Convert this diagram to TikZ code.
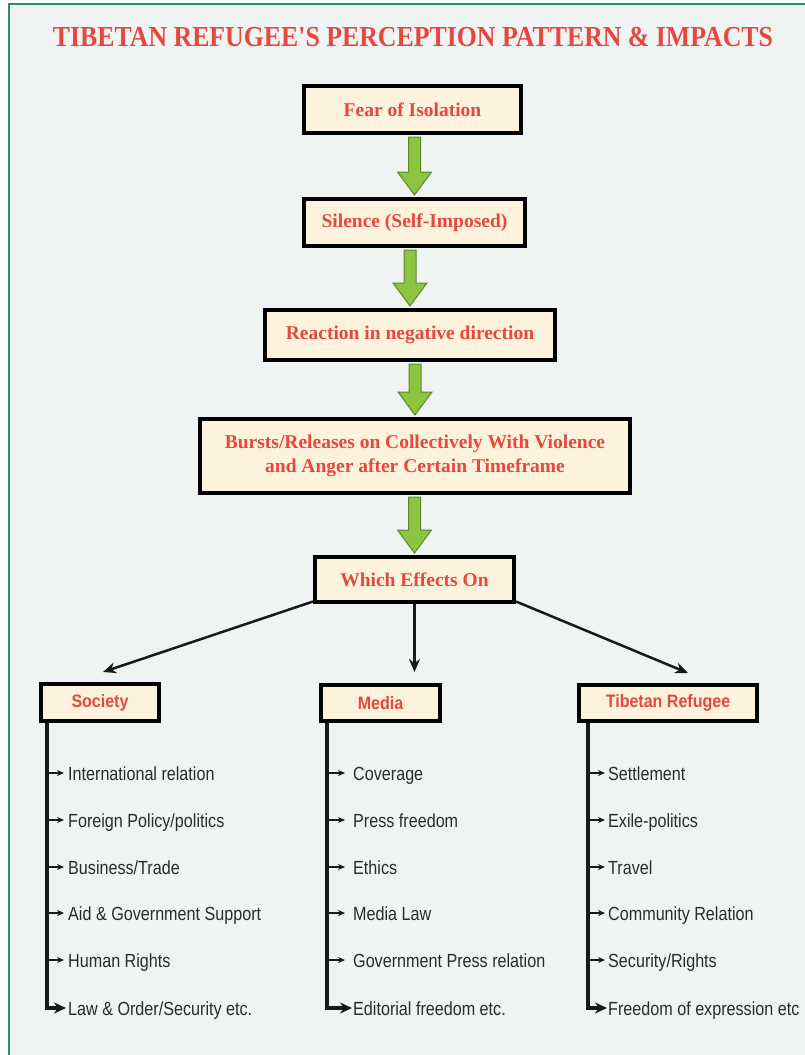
\documentclass[tikz,border=0pt]{standalone}
\usepackage{fontspec}
\setmainfont{Liberation Serif}
\newfontfamily\itemfont[FakeStretch=0.85]{Liberation Sans}
\newfontfamily\headfont[FakeStretch=0.89]{Liberation Sans}
\newfontfamily\titlefont[FakeStretch=0.89]{Liberation Serif}
\usetikzlibrary{arrows.meta,calc}
\definecolor{bg}{HTML}{EFF4F3}
\definecolor{framegreen}{HTML}{2E8B6A}
\definecolor{cream}{HTML}{FDF3DC}
\definecolor{redtxt}{HTML}{E5483E}
\definecolor{gfill}{HTML}{8DC541}
\definecolor{gdraw}{HTML}{5B8A2C}
\definecolor{itemtxt}{HTML}{2B2B2B}
\newcommand\greenarrow[2]{%
  \path let \p1=(#1.south), \p2=(#2.north) in
    [garrow] (\x2-6pt,\y1-2pt) -- (\x2-6pt,\y2+25pt) -- (\x2-17pt,\y2+25pt) -- (\x2,\y2+2pt)
    -- (\x2+17pt,\y2+25pt) -- (\x2+6pt,\y2+25pt) -- (\x2+6pt,\y1-2pt) -- cycle;}
\begin{document}
\begin{tikzpicture}[x=1pt,y=-1pt,
  mainbox/.style={draw=black, line width=4pt, fill=cream, text=redtxt, align=center, inner sep=0pt,
    font=\bfseries\fontsize{19.5}{24}\selectfont},
  headbox/.style={draw=black, line width=4pt, fill=cream, text=redtxt, inner sep=0pt,
    font=\headfont\bfseries\fontsize{18}{20}\selectfont},
  itemtext/.style={anchor=west, inner sep=0pt, text=itemtxt, text height=14pt, text depth=0pt,
    font=\itemfont\fontsize{19}{22}\selectfont},
  garrow/.style={fill=gfill, draw=gdraw, line width=1pt, line join=miter},
  conn/.style={draw=black!90, line width=2.5pt, -{Stealth[length=13pt,width=11pt]}},
  vline/.style={draw=black!90, line width=4pt, -{Stealth[length=12pt,width=11pt]}},
  sarrow/.style={draw=black!90, line width=1.2pt, -{Stealth[length=7pt,width=6pt]}}
]
\useasboundingbox (0,0) rectangle (804,1055);
\fill[white] (0,0) rectangle (804,1055);
\fill[bg] (9,4) rectangle (810,1060);
\draw[framegreen, line width=2.5pt] (9,1060) -- (9,4) -- (810,4);

\node[font=\titlefont\bfseries\fontsize{29}{32}\selectfont, text=redtxt, inner sep=0pt] (title) at (413,37)
  {TIBETAN REFUGEE'S PERCEPTION PATTERN \& IMPACTS};

\node[mainbox, minimum width=217, minimum height=47] (fear) at (412.5,109.5) {Fear of Isolation};
\node[mainbox, minimum width=221, minimum height=47] (sil) at (414.5,222.5) {Silence (Self-Imposed)};
\node[mainbox, minimum width=290, minimum height=50] (react) at (410,335) {Reaction in negative direction};
\node[mainbox, minimum width=430, minimum height=74] (burst) at (415,456) {Bursts/Releases on Collectively With Violence\\and Anger after Certain Timeframe};
\node[mainbox, minimum width=199, minimum height=45] (which) at (414.5,579.5) {Which Effects On};

\greenarrow{fear}{sil}
\greenarrow{sil}{react}
\greenarrow{react}{burst}
\greenarrow{burst}{which}

\node[headbox, minimum width=118, minimum height=37] (soc) at (100,702.5) {Society};
\node[headbox, minimum width=119, minimum height=36] (med) at (380.5,703) {Media};
\node[headbox, minimum width=178, minimum height=36] (trp) at (668,703) {Tibetan Refugee};

\draw[conn] ([yshift=2.5pt]which.south west) -- ([xshift=3pt,yshift=10pt]soc.north);
\draw[conn, shorten >=11pt] (which.south) -- (which.south |- med.north);
\draw[conn] ([yshift=2.5pt]which.south east) -- ([xshift=20pt,yshift=10pt]trp.north);

% Society items
\node[itemtext] (s1) at (68,773) {International relation};
\node[itemtext] (s2) at (68,820) {Foreign Policy/politics};
\node[itemtext] (s3) at (68,867) {Business/Trade};
\node[itemtext] (s4) at (68,913) {Aid \& Government Support};
\node[itemtext] (s5) at (68,960) {Human Rights};
\node[itemtext] (s6) at (68,1008) {Law \& Order/Security etc.};
\coordinate (sL) at ([xshift=8pt]soc.south west);
\foreach \i in {1,...,5} \draw[sarrow, shorten >=4pt] (sL |- s\i.west) -- (s\i.west);
\draw[vline, shorten >=2pt] (sL) |- (s6.west);

% Media items
\node[itemtext] (m1) at (353,773) {Coverage};
\node[itemtext] (m2) at (353,820) {Press freedom};
\node[itemtext] (m3) at (353,867) {Ethics};
\node[itemtext] (m4) at (353,913) {Media Law};
\node[itemtext] (m5) at (353,960) {Government Press relation};
\node[itemtext] (m6) at (353,1008) {Editorial freedom etc.};
\coordinate (mL) at ([xshift=8pt]med.south west);
\foreach \i in {1,...,5} \draw[sarrow, shorten >=8pt] (mL |- m\i.west) -- (m\i.west);
\draw[vline, shorten >=1pt] (mL) |- (m6.west);

% Tibetan Refugee items
\node[itemtext] (t1) at (608,773) {Settlement};
\node[itemtext] (t2) at (608,820) {Exile-politics};
\node[itemtext] (t3) at (608,867) {Travel};
\node[itemtext] (t4) at (608,913) {Community Relation};
\node[itemtext] (t5) at (608,960) {Security/Rights};
\node[itemtext] (t6) at (608,1008) {Freedom of expression etc};
\coordinate (tL) at ([xshift=11pt]trp.south west);
\foreach \i in {1,...,5} \draw[sarrow, shorten >=3pt] (tL |- t\i.west) -- (t\i.west);
\draw[vline, shorten >=1pt] (tL) |- (t6.west);
\end{tikzpicture}
\end{document}
